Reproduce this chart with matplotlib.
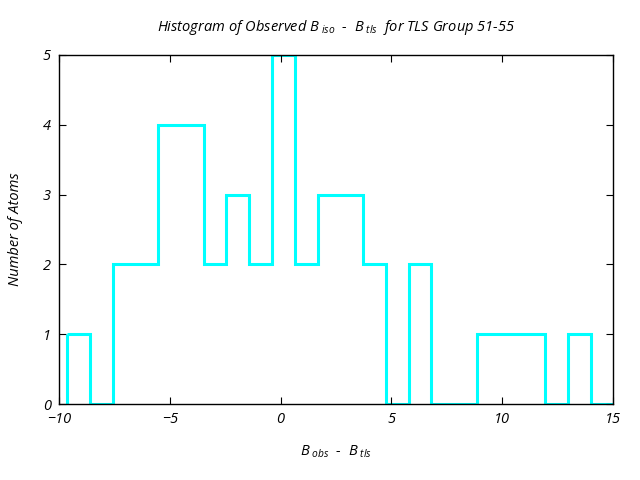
import matplotlib
matplotlib.use("Agg")
import matplotlib.pyplot as plt

bin_edges = [-9.640, -8.612, -7.584, -6.556, -5.528, -4.500, -3.472, -2.444, -1.416, -0.388,
             0.640, 1.668, 2.696, 3.724, 4.752, 5.780, 6.808, 7.836, 8.864, 9.892,
             10.920, 11.948, 12.976, 14.004, 15.032]
counts = [1, 0, 2, 2, 4, 4, 2, 3, 2, 5, 2, 3, 3, 2, 0, 2, 0, 0, 1, 1, 1, 0, 1, 0]

title = r"Histogram of Observed $B_{\ iso}$  -  $B_{\ tls}$  for TLS Group 51-55"
xlabel = r"$B_{\ obs}$  -  $B_{\ tls}$"
ylabel = "Number of Atoms"
xticks = [-10, -5, 0, 5, 10, 15]
yticks = [0, 1, 2, 3, 4, 5]

plt.rcParams['font.family'] = ['Open Sans', 'DejaVu Sans']
plt.rcParams['font.style'] = 'italic'
plt.rcParams['mathtext.fontset'] = 'custom'
plt.rcParams['mathtext.rm'] = 'Open Sans:italic'
plt.rcParams['mathtext.it'] = 'Open Sans:italic'

fig = plt.figure(figsize=(6.4, 4.8), dpi=100)
ax = fig.add_axes([59/640, 76/480, (613-59)/640, (404-55)/480])
cyan = '#00ffff'
ax.stairs(counts, bin_edges, color=cyan, linewidth=2.2, baseline=None)
ax.vlines(bin_edges[0], 0, counts[0], color=cyan, linewidth=2.2)
ax.set_xlim(-10, 15)
ax.set_ylim(0, 5)
ax.set_xticks(xticks)
ax.set_yticks(yticks)
ax.tick_params(direction='in', top=True, right=True, length=5, labelsize=10.5, pad=6)
for lab in ax.get_xticklabels() + ax.get_yticklabels():
    lab.set_style('italic')
for s in ax.spines.values():
    s.set_linewidth(1.0)
ax.set_title(title, fontsize=10.5, pad=17)
ax.set_xlabel(xlabel, fontsize=10.5, labelpad=12)
ax.set_ylabel(ylabel, fontsize=10.5, labelpad=14)
fig.savefig("out.png", dpi=100)
